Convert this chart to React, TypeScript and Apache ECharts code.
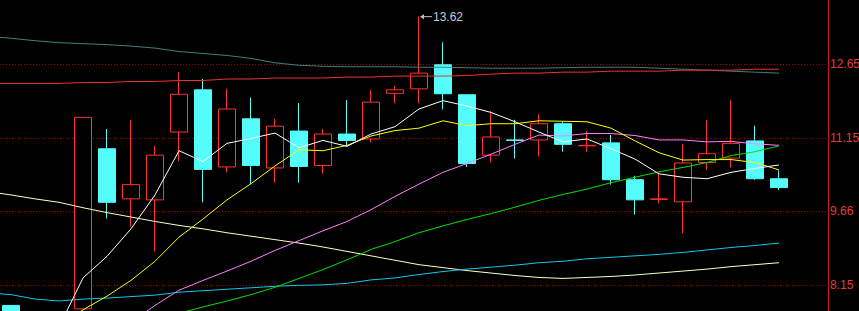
import React, { useEffect, useRef } from "react";
import * as echarts from "echarts";

// 36 slots; slot 0 is just off the left edge, slots 34-35 are empty space before the price axis
const categories = [
  "d00", "d01", "d02", "d03", "d04", "d05", "d06", "d07", "d08", "d09",
  "d10", "d11", "d12", "d13", "d14", "d15", "d16", "d17", "d18", "d19",
  "d20", "d21", "d22", "d23", "d24", "d25", "d26", "d27", "d28", "d29",
  "d30", "d31", "d32", "d33", "d34", "d35",
];

// [open, close, low, high]
const candles = [
  [7.40, 7.35, 7.30, 7.45],
  [7.74, 7.30, 7.26, 7.74],
  [7.30, 7.25, 7.20, 7.35],
  [7.26, 7.28, 7.22, 7.33],
  [7.67, 11.57, 7.67, 11.57],
  [10.93, 9.84, 9.51, 11.33],
  [9.91, 10.20, 9.35, 11.52],
  [9.89, 10.80, 8.84, 10.99],
  [11.27, 12.04, 10.68, 12.49],
  [12.13, 10.51, 9.84, 12.35],
  [10.56, 11.74, 10.45, 12.15],
  [11.54, 10.59, 10.21, 11.97],
  [10.54, 11.39, 10.24, 11.54],
  [11.29, 10.57, 10.24, 11.86],
  [10.59, 11.23, 10.42, 11.33],
  [11.23, 11.10, 10.98, 11.92],
  [11.13, 11.88, 11.06, 12.13],
  [12.06, 12.13, 11.86, 12.21],
  [12.15, 12.47, 11.86, 13.62],
  [12.64, 12.05, 11.73, 13.10],
  [12.03, 10.63, 10.56, 12.03],
  [10.80, 11.17, 10.65, 11.70],
  [11.11, 11.10, 10.73, 11.52],
  [11.11, 11.44, 10.77, 11.64],
  [11.44, 11.02, 10.87, 11.48],
  [10.99, 11.00, 10.87, 11.29],
  [11.05, 10.30, 10.20, 11.21],
  [10.30, 9.89, 9.59, 10.38],
  [9.90, 9.91, 9.82, 10.42],
  [9.85, 10.64, 9.21, 11.03],
  [10.65, 10.83, 10.50, 11.52],
  [10.74, 11.04, 10.55, 11.92],
  [11.09, 10.32, 10.30, 11.40],
  [10.32, 10.14, 10.09, 10.49],
];

const maWhite = [7.32, 7.30, 7.28, 7.30, 8.30, 8.74, 9.30, 9.99, 10.89, 10.67, 11.04, 11.14, 11.25, 10.95, 11.10, 10.98, 11.23, 11.38, 11.74, 11.91, 11.80, 11.67, 11.48, 11.27, 11.07, 11.13, 10.93, 10.72, 10.42, 10.35, 10.32, 10.45, 10.53, 10.60];
const maYellow = [7.30, 7.30, 7.32, 7.35, 7.65, 7.93, 8.25, 8.64, 9.13, 9.50, 9.89, 10.22, 10.58, 10.91, 10.89, 11.00, 11.19, 11.30, 11.35, 11.50, 11.40, 11.44, 11.44, 11.50, 11.49, 11.48, 11.35, 11.09, 10.85, 10.70, 10.71, 10.71, 10.65, 10.50];
const maMagenta = [7.30, 7.30, 7.32, 7.34, 7.36, 7.38, 7.40, 7.74, 8.05, 8.25, 8.44, 8.64, 8.86, 9.06, 9.26, 9.45, 9.69, 9.96, 10.21, 10.45, 10.63, 10.82, 11.02, 11.21, 11.19, 11.24, 11.24, 11.20, 11.11, 11.11, 11.07, 11.08, 11.03, 11.00];
const maGreen = [7.20, 7.22, 7.24, 7.26, 7.30, 7.34, 7.38, 7.47, 7.58, 7.71, 7.83, 7.96, 8.11, 8.29, 8.47, 8.67, 8.88, 9.04, 9.22, 9.36, 9.49, 9.61, 9.74, 9.88, 10.00, 10.11, 10.24, 10.35, 10.46, 10.55, 10.65, 10.79, 10.87, 10.99];
const maBlue = [8.00, 7.96, 7.87, 7.83, 7.87, 7.89, 7.92, 7.95, 8.01, 8.04, 8.07, 8.10, 8.13, 8.15, 8.16, 8.19, 8.26, 8.30, 8.37, 8.43, 8.48, 8.52, 8.56, 8.61, 8.64, 8.69, 8.72, 8.75, 8.78, 8.82, 8.87, 8.92, 8.96, 9.01];
const maPale = [10.06, 9.99, 9.91, 9.84, 9.73, 9.63, 9.54, 9.45, 9.37, 9.30, 9.22, 9.15, 9.08, 9.01, 8.93, 8.84, 8.75, 8.66, 8.57, 8.51, 8.45, 8.40, 8.35, 8.31, 8.29, 8.31, 8.33, 8.36, 8.40, 8.44, 8.48, 8.53, 8.57, 8.61];
const maTeal = [13.22, 13.18, 13.13, 13.09, 13.07, 13.05, 13.02, 12.98, 12.91, 12.87, 12.83, 12.77, 12.68, 12.63, 12.61, 12.60, 12.60, 12.60, 12.59, 12.59, 12.58, 12.57, 12.57, 12.57, 12.58, 12.59, 12.59, 12.59, 12.57, 12.55, 12.53, 12.51, 12.49, 12.47];
const maRed = [12.26, 12.26, 12.26, 12.26, 12.28, 12.28, 12.30, 12.30, 12.32, 12.32, 12.35, 12.35, 12.37, 12.37, 12.37, 12.39, 12.39, 12.41, 12.41, 12.41, 12.42, 12.45, 12.47, 12.47, 12.49, 12.49, 12.51, 12.51, 12.51, 12.53, 12.53, 12.53, 12.55, 12.55];

const priceTicks = [8.15, 9.66, 11.15, 12.65];
const peakIndex = 18;
const peakValue = 13.62;

const Y_MIN = 7.627;
const Y_MAX = 13.959;

const lineSeries = (data: number[], color: string) => ({
  type: "line",
  xAxisIndex: 0,
  yAxisIndex: 0,
  data,
  symbol: "none",
  showSymbol: false,
  silent: true,
  lineStyle: { color, width: 1 },
});

export default function App() {
  const ref = useRef<HTMLDivElement>(null);
  useEffect(() => {
    if (!ref.current) return;
    const chart = echarts.init(ref.current, null, { renderer: "svg" });
    const option: any = {
      animation: false,
      backgroundColor: "#000000",
      grid: [
        { left: 0, width: 864, top: 0, bottom: 0, containLabel: false, outerBoundsMode: "none" },
        { left: 25, right: 31, top: 0, bottom: 0, containLabel: false, outerBoundsMode: "none" },
      ],
      xAxis: [
        { type: "category", gridIndex: 0, data: categories, boundaryGap: true, show: false },
        { type: "value", gridIndex: 1, min: 0, max: 1, show: false },
      ],
      yAxis: [
        { type: "value", gridIndex: 0, min: Y_MIN, max: Y_MAX, show: false },
        {
          type: "value",
          gridIndex: 1,
          position: "right",
          min: Y_MIN,
          max: Y_MAX,
          axisLine: { show: true, onZero: false, lineStyle: { color: "#d41414", width: 1 } },
          axisTick: { show: false, customValues: priceTicks },
          axisLabel: {
            customValues: priceTicks,
            color: "#e43c3c",
            fontSize: 12,
            fontFamily: '"Liberation Sans", Arial, sans-serif',
            margin: 2,
            formatter: (v: number) => v.toFixed(2),
          },
          splitLine: { show: true, lineStyle: { color: "#a00000", type: [1, 2], width: 1 } },
        },
      ],
      series: [
        {
          type: "candlestick",
          xAxisIndex: 0,
          yAxisIndex: 0,
          data: candles,
          barWidth: 18,
          silent: true,
          itemStyle: {
            color: "#000000",
            color0: "#54fcfc",
            borderColor: "#ff3232",
            borderColor0: "#54fcfc",
            borderWidth: 1,
          },
        },
        lineSeries(maTeal, "#3c8080"),
        lineSeries(maRed, "#f03030"),
        lineSeries(maPale, "#ffffc0"),
        lineSeries(maBlue, "#10c8ec"),
        lineSeries(maGreen, "#00e000"),
        lineSeries(maMagenta, "#ff80ff"),
        lineSeries(maYellow, "#ffff00"),
        lineSeries(maWhite, "#ffffff"),
      ],
    };
    chart.setOption(option);
    const p = chart.convertToPixel({ xAxisIndex: 0, yAxisIndex: 0 }, [peakIndex, peakValue]) as number[];
    if (p) {
      const [px, py] = p;
      chart.setOption({
        graphic: [
          {
            type: "line",
            silent: true,
            shape: { x1: px + 2, y1: py, x2: px + 13, y2: py },
            style: { stroke: "#c0c0c0", lineWidth: 1 },
          },
          {
            type: "polygon",
            silent: true,
            shape: { points: [[px + 1, py], [px + 5, py - 2.5], [px + 5, py + 2.5]] },
            style: { fill: "#c0c0c0" },
          },
          {
            type: "text",
            silent: true,
            style: {
              text: peakValue.toFixed(2),
              x: px + 14,
              y: py,
              verticalAlign: "middle",
              fill: "#c4ccd6",
              font: '12px "Liberation Sans", Arial, sans-serif',
            },
          },
        ],
      });
    }
    return () => chart.dispose();
  }, []);
  return (
    <div
      ref={ref}
      style={{ position: "fixed", left: -25, top: 0, width: 884, height: 311, background: "#000" }}
    />
  );
}
